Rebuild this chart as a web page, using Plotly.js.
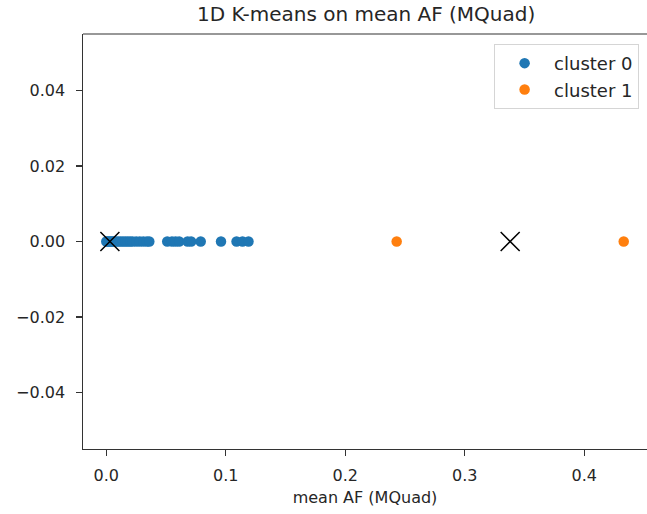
<!DOCTYPE html>
<html>
<head>
<meta charset="utf-8">
<script src="https://cdn.plot.ly/plotly-3.0.1.min.js"></script>
<style>html,body{margin:0;padding:0;background:#fff;}#chart{width:647px;height:514px;}</style>
</head>
<body>
<div id="chart"></div>
<script>
// cluster 0 mean AF values (all drawn at y = 0)
const cluster0X = [0.000, 0.001, 0.002, 0.003, 0.004, 0.005, 0.006, 0.008, 0.010, 0.012, 0.014, 0.016, 0.018, 0.020, 0.022, 0.025, 0.028, 0.031, 0.034, 0.036,
                   0.051, 0.055, 0.058, 0.061, 0.068, 0.071, 0.079, 0.096, 0.109, 0.114, 0.119];
const cluster0Y = cluster0X.map(() => 0);
// cluster 1 mean AF values
const cluster1X = [0.243, 0.433];
const cluster1Y = [0, 0];
// cluster centroids
const centroidX = [0.003, 0.338];
const centroidY = [0, 0];

const xTickVals = [0.0, 0.1, 0.2, 0.3, 0.4];
const yTickVals = [-0.04, -0.02, 0.00, 0.02, 0.04];

const font = "DejaVu Sans, sans-serif";
const tickSize = 16;

const traces = [
  {x: cluster0X, y: cluster0Y, type: 'scatter', mode: 'markers', name: 'cluster 0', legendgroup: 'a',
   marker: {color: '#1f77b4', size: 10.5}},
  {x: cluster1X, y: cluster1Y, type: 'scatter', mode: 'markers', name: 'cluster 1', legendgroup: 'b',
   marker: {color: '#ff7f0e', size: 10.5}},
  {x: centroidX, y: centroidY, type: 'scatter', mode: 'markers', name: 'centroids', showlegend: false,
   marker: {symbol: 'x-thin-open', size: 19, color: '#000', line: {color: '#222', width: 1.5}}}
];

const layout = {
  width: 647, height: 514,
  paper_bgcolor: '#fff', plot_bgcolor: '#fff',
  margin: {l: 83, r: 0, t: 34, b: 65},
  font: {family: font, size: tickSize, color: '#262626'},
  title: {text: '1D K-means on mean AF (MQuad)', font: {family: font, size: 20, color: '#262626'},
          xref: 'paper', x: 0.502, xanchor: 'center', yref: 'container', y: 0.973, yanchor: 'middle'},
  xaxis: {
    range: [-0.0195, 0.4525], tickvals: xTickVals, tickformat: '.1f',
    ticks: 'outside', ticklen: 5.5, tickwidth: 1.2, tickcolor: '#333',
    showline: true, linecolor: '#333', linewidth: 1.2, showgrid: false, zeroline: false,
    ticklabelstandoff: 6,
    tickfont: {family: font, size: tickSize, color: '#262626'},
    title: {text: 'mean AF (MQuad)', font: {family: font, size: tickSize, color: '#262626'}, standoff: 7}
  },
  yaxis: {
    range: [-0.055, 0.055], tickvals: yTickVals, tickformat: '.2f',
    ticks: 'outside', ticklen: 5.5, tickwidth: 1.2, tickcolor: '#333',
    showline: true, linecolor: '#333', linewidth: 1.2, showgrid: false, zeroline: false,
    ticklabelstandoff: 8,
    tickfont: {family: font, size: tickSize, color: '#262626'}
  },
  legend: {
    x: 0.986, xanchor: 'right', y: 0.976, yanchor: 'top',
    bordercolor: '#d5d5d5', borderwidth: 1, bgcolor: 'rgba(255,255,255,0.8)',
    font: {family: font, size: 18, color: '#262626'},
    traceorder: 'grouped', tracegroupgap: 0, itemwidth: 49
  },
  shapes: [
    {type: 'line', xref: 'paper', yref: 'paper', x0: 0, x1: 1, y0: 1, y1: 1, line: {color: '#333', width: 1.2}}
  ],
  showlegend: true
};

Plotly.newPlot('chart', traces, layout, {displayModeBar: false, staticPlot: true});
</script>
</body>
</html>
